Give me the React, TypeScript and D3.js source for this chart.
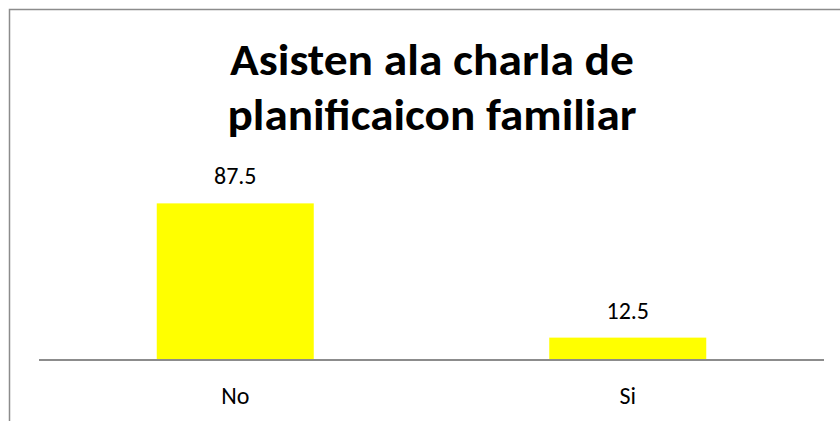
import React from 'react';
import * as d3 from 'd3';

const categories = ['No', 'Si'];
const values = [87.5, 12.5];
const titleLines = ['Asisten ala charla de', 'planificaicon familiar'];
const titleWidths = [404, 409];

const width = 840;
const height = 421;
const font = "Carlito, Calibri, Lato, sans-serif";

export default function App() {
  const x = d3.scaleBand<string>()
    .domain(categories)
    .range([39, 824])
    .paddingInner(0.6)
    .paddingOuter(0.3);

  const y = d3.scaleLinear()
    .domain([0, 100])
    .range([360, 181]);

  return (
    <div style={{ position: 'absolute', left: 0, top: 0 }}>
      <svg width={width} height={height} style={{ display: 'block', background: '#fff' }}>
        {/* chart border (cropped on right and bottom) */}
        <path d="M9.5,421 V9.5 H840" fill="none" stroke="#8c8c8c" strokeWidth={1.5} />

        {titleLines.map((t, i) => (
          <text key={i} x={432} y={75 + i * 55} textAnchor="middle"
            fontFamily={font} fontWeight="bold" fontSize={44} fill="#000"
            textLength={titleWidths[i]} lengthAdjust="spacingAndGlyphs">
            {t}
          </text>
        ))}

        {categories.map((c, i) => (
          <g key={c}>
            <rect x={x(c)} y={y(values[i])} width={x.bandwidth()}
              height={y(0) - y(values[i])} fill="#ffff00" />
            <text x={x(c)! + x.bandwidth() / 2} y={y(values[i]) - 19}
              textAnchor="middle" fontFamily={font} fontSize={24} fill="#000">
              {values[i]}
            </text>
            <text x={x(c)! + x.bandwidth() / 2} y={404}
              textAnchor="middle" fontFamily={font} fontSize={24} fill="#000">
              {c}
            </text>
          </g>
        ))}

        <line x1={39} x2={824} y1={y(0)} y2={y(0)} stroke="#8c8c8c" strokeWidth={2} />
      </svg>
    </div>
  );
}
